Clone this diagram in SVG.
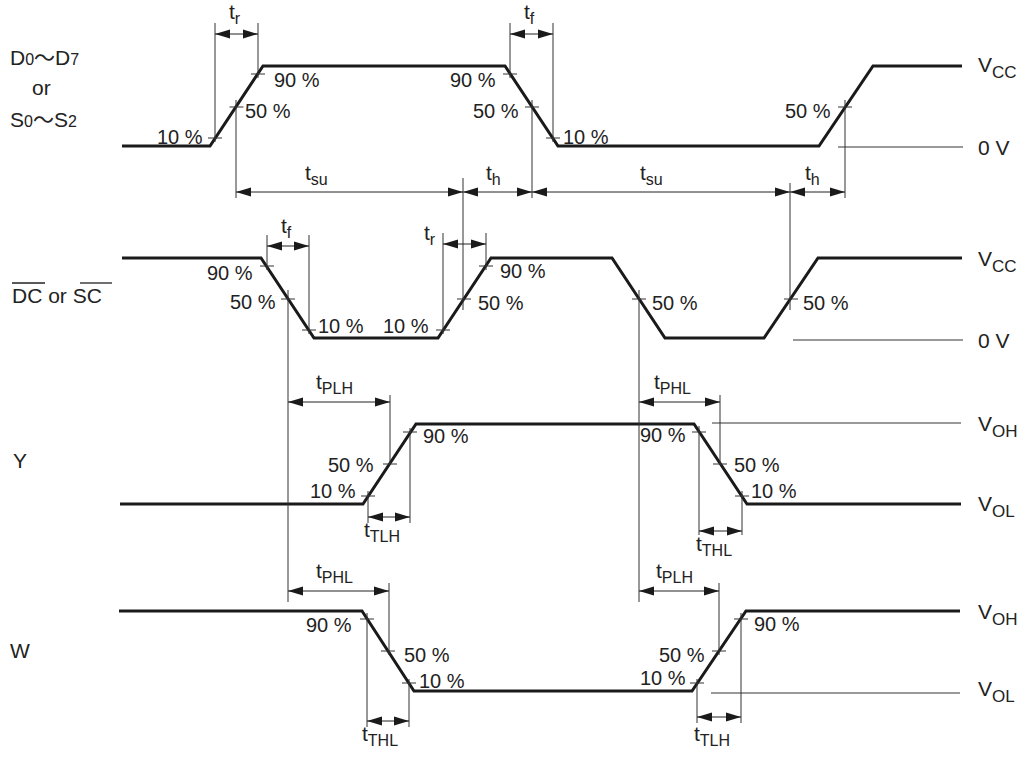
<svg xmlns="http://www.w3.org/2000/svg" width="1024" height="758" viewBox="0 0 1024 758">
<defs>
<style>
.sig{fill:none;stroke:#1a1a1a;stroke-width:3;stroke-linejoin:miter}
.ref{fill:none;stroke:#777;stroke-width:1.5}
.ext{fill:none;stroke:#333;stroke-width:1}
.tick{fill:none;stroke:#333;stroke-width:1}
.dim{fill:none;stroke:#222;stroke-width:1;marker-start:url(#ah);marker-end:url(#ah)}
text{font-family:"Liberation Sans",Arial,"Noto Sans CJK JP",sans-serif;fill:#222}
.p{font-size:20px}
.l{font-size:21px}
.s{font-size:16px}
.v{font-size:17px}
</style>
<marker id="ah" markerUnits="userSpaceOnUse" markerWidth="16" markerHeight="10" refX="15" refY="5" orient="auto-start-reverse">
<path d="M0,0.5 L15,5 L0,9.5 z" fill="#1a1a1a"/>
</marker>
</defs>
<rect width="1024" height="758" fill="#fff"/>

<g id="labels-left">
<text class="l" x="10" y="65">D<tspan class="s">0</tspan>～D<tspan class="s">7</tspan></text>
<text class="l" x="32" y="95">or</text>
<text class="l" x="10" y="127">S<tspan class="s">0</tspan>～S<tspan class="s">2</tspan></text>
<text class="l" x="12" y="303">DC or SC</text>
<line x1="12" y1="283" x2="45" y2="283" stroke="#222" stroke-width="1.3"/>
<line x1="80" y1="283" x2="112" y2="283" stroke="#222" stroke-width="1.3"/>
<text class="l" x="13" y="468">Y</text>
<text class="l" x="10" y="658">W</text>
</g>

<g id="labels-right">
<text class="l" x="978" y="72">V<tspan class="v" dy="6">CC</tspan></text>
<text class="l" x="978" y="155">0 V</text>
<text class="l" x="978" y="266">V<tspan class="v" dy="6">CC</tspan></text>
<text class="l" x="978" y="348">0 V</text>
<text class="l" x="978" y="431">V<tspan class="v" dy="6">OH</tspan></text>
<text class="l" x="978" y="511">V<tspan class="v" dy="6">OL</tspan></text>
<text class="l" x="978" y="619">V<tspan class="v" dy="6">OH</tspan></text>
<text class="l" x="978" y="696">V<tspan class="v" dy="6">OL</tspan></text>
</g>

<g id="signal-d">
<polyline class="sig" points="122,146 210,146 263,66 505,66 558,146 819,146 873,66 962,66"/>
<line class="ref" x1="838" y1="147" x2="963" y2="147"/>
<path class="tick" d="M208,138h14M229.5,107h14M251,74h14M503,74h14M525,107h14M546,138h14M838,107h14"/>
<text class="p" x="157" y="144">10 %</text>
<text class="p" x="245" y="118">50 %</text>
<text class="p" x="274" y="87">90 %</text>
<text class="p" x="450" y="87">90 %</text>
<text class="p" x="473" y="118">50 %</text>
<text class="p" x="563" y="144">10 %</text>
<text class="p" x="785" y="118">50 %</text>
</g>

<g id="signal-dc">
<polyline class="sig" points="122,258 261,258 314,338 438,338 491,258 612,258 665,338 764,338 818,258 962,258"/>
<line class="ref" x1="793" y1="340" x2="963" y2="340"/>
<path class="tick" d="M260,266h14M281,299h14M302,330h14M436,330h14M457,299h14M479,266h14M632,299h14M784,299h14"/>
<text class="p" x="207" y="280">90 %</text>
<text class="p" x="230" y="309">50 %</text>
<text class="p" x="318" y="333">10 %</text>
<text class="p" x="383" y="333">10 %</text>
<text class="p" x="478" y="310">50 %</text>
<text class="p" x="500" y="278">90 %</text>
<text class="p" x="652" y="310">50 %</text>
<text class="p" x="803" y="310">50 %</text>
</g>

<g id="signal-y">
<polyline class="sig" points="120,504 363,504 416,424 694,424 747,504 961,504"/>
<line class="ref" x1="712" y1="423" x2="961" y2="423"/>
<path class="tick" d="M361,496h14M383,464h14M403,432h14M692,432h14M713,464h14M735,496h14"/>
<text class="p" x="423" y="443">90 %</text>
<text class="p" x="328" y="472">50 %</text>
<text class="p" x="310" y="498">10 %</text>
<text class="p" x="640" y="442">90 %</text>
<text class="p" x="734" y="472">50 %</text>
<text class="p" x="751" y="498">10 %</text>
</g>

<g id="signal-w">
<polyline class="sig" points="119,611 362,611 414,691 692,691 746,611 960,611"/>
<line class="ref" x1="711" y1="693" x2="960" y2="693"/>
<path class="tick" d="M360,619h14M381,651h14M402,683h14M690,683h14M712,651h14M734,619h14"/>
<text class="p" x="306" y="632">90 %</text>
<text class="p" x="404" y="662">50 %</text>
<text class="p" x="419" y="688">10 %</text>
<text class="p" x="754" y="631">90 %</text>
<text class="p" x="659" y="662">50 %</text>
<text class="p" x="640" y="685">10 %</text>
</g>

<g id="connectors">
<path class="ext" d="M215,23V142M258,23V78M236,100V198M510,23V78M553,23V142M463,178V310M532,100V198M790,183V310M845,100V198
M267,235V270M309,235V334M288,290V602M443,233V334M486,233V270M639,290V602
M390,395V465M368,491V523M410,428V523M720,395V465M699,426V535M742,491V535
M389,583V655M367,613V727M409,679V727M719,583V655M697,679V723M741,613V723"/>
<line class="dim" x1="215" y1="34" x2="258" y2="34"/>
<line class="dim" x1="510" y1="34" x2="553" y2="34"/>
<line class="dim" x1="236" y1="192" x2="463" y2="192"/>
<line class="dim" x1="463" y1="192" x2="532" y2="192"/>
<line class="dim" x1="532" y1="192" x2="790" y2="192"/>
<line class="dim" x1="790" y1="192" x2="845" y2="192"/>
<line class="dim" x1="267" y1="246" x2="309" y2="246"/>
<line class="dim" x1="443" y1="244" x2="486" y2="244"/>
<line class="dim" x1="288" y1="402" x2="390" y2="402"/>
<line class="dim" x1="368" y1="517" x2="410" y2="517"/>
<line class="dim" x1="639" y1="402" x2="720" y2="402"/>
<line class="dim" x1="699" y1="531" x2="742" y2="531"/>
<line class="dim" x1="288" y1="591" x2="389" y2="591"/>
<line class="dim" x1="367" y1="721" x2="409" y2="721"/>
<line class="dim" x1="639" y1="591" x2="719" y2="591"/>
<line class="dim" x1="697" y1="717" x2="741" y2="717"/>
<text class="l" x="229" y="19">t<tspan class="s" dy="5">r</tspan></text>
<text class="l" x="524" y="19">t<tspan class="s" dy="5">f</tspan></text>
<text class="l" x="305" y="180">t<tspan class="s" dy="5">su</tspan></text>
<text class="l" x="486" y="180">t<tspan class="s" dy="5">h</tspan></text>
<text class="l" x="640" y="180">t<tspan class="s" dy="5">su</tspan></text>
<text class="l" x="805" y="180">t<tspan class="s" dy="5">h</tspan></text>
<text class="l" x="281" y="233">t<tspan class="s" dy="5">f</tspan></text>
<text class="l" x="424" y="240">t<tspan class="s" dy="5">r</tspan></text>
<text class="l" x="316" y="389">t<tspan class="s" dy="5">PLH</tspan></text>
<text class="l" x="364" y="537">t<tspan class="s" dy="5">TLH</tspan></text>
<text class="l" x="654" y="389">t<tspan class="s" dy="5">PHL</tspan></text>
<text class="l" x="696" y="551">t<tspan class="s" dy="5">THL</tspan></text>
<text class="l" x="316" y="578">t<tspan class="s" dy="5">PHL</tspan></text>
<text class="l" x="362" y="741">t<tspan class="s" dy="5">THL</tspan></text>
<text class="l" x="656" y="578">t<tspan class="s" dy="5">PLH</tspan></text>
<text class="l" x="694" y="741">t<tspan class="s" dy="5">TLH</tspan></text>
</g>
</svg>
